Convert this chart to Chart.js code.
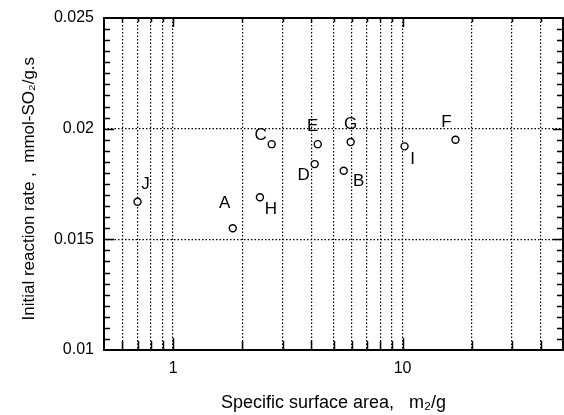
<!DOCTYPE html>
<html><head><meta charset="utf-8">
<script src="https://cdn.jsdelivr.net/npm/chart.js@4.4.0/dist/chart.umd.min.js"></script>
<style>html,body{margin:0;padding:0;background:#fff}canvas{display:block}</style>
</head><body>
<canvas id="c" width="564" height="415"></canvas>
<script>
// ---- data ----
const sampleLabels = ['A','B','C','D','E','F','G','H','I','J'];
const surfaceArea  = [1.82, 5.54, 2.69, 4.14, 4.27, 17.0, 5.94, 2.39, 10.2, 0.70];
const reactionRate = [0.0155, 0.0181, 0.0193, 0.0184, 0.0193, 0.0195, 0.0194, 0.0169, 0.0192, 0.0167];
const xTickValues  = [0.5,0.6,0.7,0.8,0.9,1,2,3,4,5,6,7,8,9,10,20,30,40,50];
const xMajorValues = [1, 10];
const xMajorLabels = ['1', '10'];
const yTickValues  = [0.01, 0.015, 0.02, 0.025];
const yTickLabels  = ['0.01', '0.015', '0.02', '0.025'];
const yGridValues  = [0.015, 0.02];
const yMinorStep   = 0.0005;
const xTitle = 'Specific surface area,   m\u2082/g';
const yTitle = 'Initial reaction rate ,  mmol-SO\u2082/g.s  ';

// ---- label placement (style, not data) ----
const labelOffsets = {A:[-8,-25],B:[15,11],C:[-11,-9],D:[-11,11],E:[-5,-18],F:[-9,-17],G:[0,-18],H:[11,12],I:[8,13],J:[8,-17]};

const FONT = '"Liberation Sans", Arial, sans-serif';
const points = surfaceArea.map((x,i)=>({x, y: reactionRate[i]}));

const frame = {
  id: 'frame',
  beforeDatasetsDraw(chart) {
    const {ctx, chartArea: a, scales: {x, y}} = chart;
    ctx.save();
    ctx.strokeStyle = '#000';
    ctx.lineWidth = 1.5;
    xTickValues.forEach(v => {
      if (v <= 0.5 || v >= 50) return;
      const px = Math.round(x.getPixelForValue(v)) + 0.5;
      const major = xMajorValues.includes(v);
      const lb = major ? 12 : 9, lt = major ? 9 : 4;
      ctx.beginPath();
      ctx.moveTo(px, a.bottom); ctx.lineTo(px, a.bottom - lb);
      ctx.moveTo(px, a.top); ctx.lineTo(px, a.top + lt);
      ctx.stroke();
    });
    const n = Math.round((y.max - y.min) / yMinorStep);
    for (let i = 1; i < n; i++) {
      const v = y.min + i * yMinorStep;
      const py = Math.round(y.getPixelForValue(v)) + 0.5;
      const major = i % 10 === 0;
      const l = major ? 10 : 6;
      ctx.beginPath();
      ctx.moveTo(a.left, py); ctx.lineTo(a.left + l, py);
      ctx.moveTo(a.right, py); ctx.lineTo(a.right - l, py);
      ctx.stroke();
    }
    ctx.lineWidth = 2;
    ctx.strokeRect(a.left, a.top, a.right - a.left, a.bottom - a.top);
    ctx.restore();
  },
  afterDatasetsDraw(chart) {
    const {ctx} = chart;
    const meta = chart.getDatasetMeta(0);
    ctx.save();
    ctx.fillStyle = '#000';
    ctx.font = '17px ' + FONT;
    ctx.textAlign = 'center';
    ctx.textBaseline = 'middle';
    meta.data.forEach((el, i) => {
      const lab = sampleLabels[i];
      const o = labelOffsets[lab];
      ctx.fillText(lab, el.x + o[0], el.y + o[1]);
    });
    ctx.restore();
  }
};

new Chart(document.getElementById('c'), {
  type: 'scatter',
  data: { datasets: [{
    data: points,
    pointRadius: 3.5,
    pointHoverRadius: 3.5,
    pointBackgroundColor: '#fff',
    pointBorderColor: '#000',
    pointBorderWidth: 1.4,
    showLine: false
  }]},
  options: {
    responsive: false,
    animation: false,
    devicePixelRatio: 1,
    layout: { autoPadding: false, padding: { top: 18, right: 1, left: 0, bottom: 0 } },
    plugins: { legend: { display: false }, tooltip: { enabled: false } },
    scales: {
      x: {
        type: 'logarithmic', min: 0.5, max: 50,
        afterBuildTicks: s => { s.ticks = xTickValues.map(v => ({value: v})); },
        afterFit: s => { s.height = 65; s.paddingLeft = 0; s.paddingRight = 0; },
        border: { display: false, dash: [1.5, 2] },
        grid: {
          drawTicks: false,
          lineWidth: 1.2,
          color: c => (c.tick && c.tick.value > 0.5 && c.tick.value < 50) ? '#000' : 'rgba(0,0,0,0)'
        },
        ticks: {
          autoSkip: false, maxRotation: 0, padding: 9, color: '#000',
          font: { family: FONT, size: 16 },
          callback: v => { const k = xMajorValues.indexOf(v); return k >= 0 ? xMajorLabels[k] : ''; }
        },
        title: { display: true, text: xTitle, color: '#000', font: { family: FONT, size: 18 }, padding: { top: 0, bottom: 1 } }
      },
      y: {
        type: 'linear', min: 0.01, max: 0.025,
        afterBuildTicks: s => { s.ticks = yTickValues.map(v => ({value: v})); },
        afterFit: s => { s.width = 104; s.paddingTop = 0; s.paddingBottom = 0; },
        border: { display: false, dash: [1.5, 2] },
        grid: {
          drawTicks: false,
          lineWidth: 1.2,
          color: c => (c.tick && yGridValues.some(g => Math.abs(g - c.tick.value) < 1e-9)) ? '#000' : 'rgba(0,0,0,0)'
        },
        ticks: {
          padding: 10, color: '#000',
          font: { family: FONT, size: 16 },
          callback: (v, i) => yTickLabels[i]
        },
        title: { display: true, text: yTitle, color: '#000', font: { family: FONT, size: 17 }, padding: { top: 19, bottom: 0 } }
      }
    }
  },
  plugins: [frame]
});
</script>
</body></html>
